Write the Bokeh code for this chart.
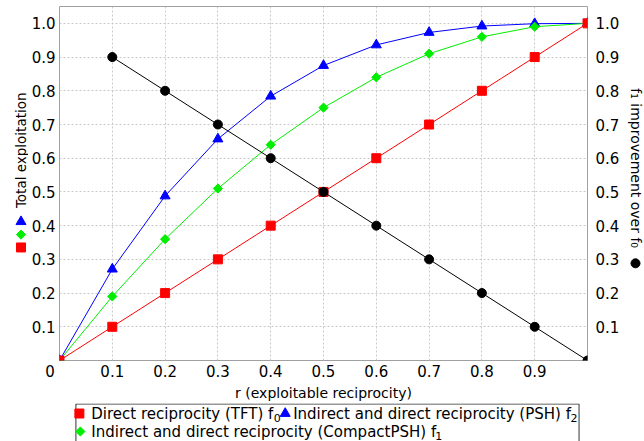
import math
from bokeh.plotting import figure
from bokeh.models import Range1d, LinearAxis, FixedTicker, NumeralTickFormatter
from bokeh.layouts import gridplot
from bokeh.embed import file_html
from bokeh.resources import INLINE
from bokeh.core.properties import value

# ---- data ----
r = [0.0, 0.1, 0.2, 0.3, 0.4, 0.5, 0.6, 0.7, 0.8, 0.9, 1.0]
f0_tft = [0.0, 0.1, 0.2, 0.3, 0.4, 0.5, 0.6, 0.7, 0.8, 0.9, 1.0]
f2_psh = [0.0, 0.271, 0.488, 0.657, 0.784, 0.875, 0.936, 0.973, 0.992, 0.999, 1.0]
f1_compact = [0.0, 0.19, 0.36, 0.51, 0.64, 0.75, 0.84, 0.91, 0.96, 0.99, 1.0]
r_impr = [0.1, 0.2, 0.3, 0.4, 0.5, 0.6, 0.7, 0.8, 0.9, 1.0]
improvement = [0.9, 0.8, 0.7, 0.6, 0.5, 0.4, 0.3, 0.2, 0.1, 0.0]

x_ticks = [0.0, 0.1, 0.2, 0.3, 0.4, 0.5, 0.6, 0.7, 0.8, 0.9]
x_grid = [0.1, 0.2, 0.3, 0.4, 0.5, 0.6, 0.7, 0.8, 0.9]
y_ticks = [0.1, 0.2, 0.3, 0.4, 0.5, 0.6, 0.7, 0.8, 0.9, 1.0]

x_label = "r (exploitable reciprocity)"
y_label = "Total exploitation"
y2_label = "f\u2081 improvement over f\u2080"
legend_main = ["Direct reciprocity (TFT) f",
               "Indirect and direct reciprocity (PSH) f",
               "Indirect and direct reciprocity (CompactPSH) f"]
legend_sub = ["0", "2", "1"]

FONT = "DejaVu Sans"
FS = "15px"
LFS = "14px"
RED, GREEN, BLUE, BLACK = "#ff0000", "#00ee00", "#0000ff", "#000000"

# page-pixel layout
LW, PW, RW = 28, 594, 22
PH, LGH = 403, 38
Y_TOP = 357 / 340  # frame top value (frame is 357 px high, 340 px per unit)

def py(page_y):
    """page pixel row -> value on the shared y scale"""
    return (363 - page_y) / 340

# ---- main figure ----
p = figure(width=PW, height=PH, output_backend="svg", toolbar_location=None,
           x_range=Range1d(0, 1), y_range=Range1d(0, Y_TOP),
           min_border_left=31, min_border_right=32, min_border_top=6,
           min_border_bottom=40)
p.extra_y_ranges = {"y2": Range1d(0, Y_TOP)}
p.outline_line_color = "#a0a0a0"
p.outline_line_width = 1
p.background_fill_color = "white"
p.border_fill_color = "white"

def style_axis(ax):
    ax.axis_line_color = None
    ax.major_tick_line_color = None
    ax.minor_tick_line_color = None
    ax.major_tick_in = 0
    ax.major_tick_out = 0
    ax.minor_tick_in = 0
    ax.minor_tick_out = 0
    ax.major_label_text_font = FONT
    ax.major_label_text_font_size = FS
    ax.major_label_text_color = "black"
    ax.axis_label_text_font = FONT
    ax.axis_label_text_font_size = LFS
    ax.axis_label_text_font_style = "normal"
    ax.axis_label_text_color = "black"

fmt = NumeralTickFormatter(format="0.0")
p.xaxis.ticker = FixedTicker(ticks=x_ticks)
p.xaxis.formatter = fmt
p.xaxis.major_label_overrides = {0.0: "0" + "\u00a0" * 4}
p.yaxis.ticker = FixedTicker(ticks=y_ticks)
p.yaxis.formatter = fmt
style_axis(p.xaxis[0])
style_axis(p.yaxis[0])
p.xaxis.major_label_standoff = 2
p.xaxis.axis_label = x_label
p.xaxis.axis_label_standoff = 1
p.yaxis.major_label_standoff = 4

y2 = LinearAxis(y_range_name="y2", ticker=FixedTicker(ticks=y_ticks), formatter=fmt)
style_axis(y2)
y2.major_label_standoff = 8
p.add_layout(y2, "right")

p.xgrid.ticker = FixedTicker(ticks=x_grid)
p.ygrid.ticker = FixedTicker(ticks=y_ticks)
for g in (p.xgrid[0], p.ygrid[0]):
    g.grid_line_color = "#c8c8c8"
    g.grid_line_dash = "2 2"
    g.grid_line_width = 1

p.line(r, f2_psh, line_color=BLUE, line_width=1)
p.scatter(r, f2_psh, marker="triangle", size=10, color=BLUE)
p.line(r, f1_compact, line_color=GREEN, line_width=1)
p.scatter(r, f1_compact, marker="square", angle=math.pi / 4, size=6.5, color=GREEN)
p.line(r, f0_tft, line_color=RED, line_width=1)
p.scatter(r, f0_tft, marker="square", size=9, color=RED)
p.line(r_impr, improvement, line_color=BLACK, line_width=1, y_range_name="y2")
p.scatter(r_impr, improvement, marker="circle", size=9, color=BLACK, y_range_name="y2")

def side_fig(width, x0, x1):
    f = figure(width=width, height=PH, output_backend="svg", toolbar_location=None,
               x_range=Range1d(x0, x1), y_range=p.y_range,
               min_border_left=0, min_border_right=0, min_border_top=6,
               min_border_bottom=40)
    f.axis.visible = False
    f.grid.visible = False
    f.outline_line_color = None
    f.background_fill_color = "white"
    f.border_fill_color = "white"
    return f

# ---- left title panel ----
lf = side_fig(LW, 0, LW)
lf.text(x=[20.5], y=[py(151)], text=[y_label], angle=math.pi / 2,
        text_font=value(FONT), text_font_size="13.5px", text_color="black",
        text_align="center", text_baseline="middle")
lf.scatter([20.5], [py(223)], marker="triangle", size=10, color=BLUE)
lf.scatter([20.5], [py(236)], marker="square", angle=math.pi / 4, size=6.5, color=GREEN)
lf.scatter([20.5], [py(249)], marker="square", size=9, color=RED)

# ---- right title panel ----
rf = side_fig(RW, LW + PW, LW + PW + RW)
rf.text(x=[635], y=[py(169)], text=[y2_label], angle=-math.pi / 2,
        text_font=value(FONT), text_font_size=LFS, text_color="black",
        text_align="center", text_baseline="middle")
rf.scatter([635], [py(265)], marker="circle", size=9, color=BLACK)

# ---- legend panel (page coordinates) ----
leg = figure(width=PW, height=LGH, output_backend="svg", toolbar_location=None,
             x_range=Range1d(59, 590), y_range=Range1d(441, 403),
             min_border_left=31, min_border_right=32, min_border_top=0,
             min_border_bottom=0)
leg.axis.visible = False
leg.grid.visible = False
leg.outline_line_color = None
leg.background_fill_color = "white"
leg.border_fill_color = "white"
leg.quad(left=[75.5], right=[581.5], top=[403.5], bottom=[460],
         fill_color=None, line_color="#333333", line_width=1)
leg.scatter([79], [413], marker="square", size=9, color=RED)
leg.scatter([286], [413], marker="triangle", size=10, color=BLUE)
leg.scatter([80], [431], marker="square", angle=math.pi / 4, size=6.5, color=GREEN)
leg.text(x=[91, 294, 91], y=[413, 413, 431], text=legend_main,
         text_font=value(FONT), text_font_size=FS, text_color="black",
         text_align="left", text_baseline="middle")
leg.text(x=[274.5, 573, 437], y=[417, 417, 435], text=legend_sub,
         text_font=value(FONT), text_font_size="11px", text_color="black",
         text_align="left", text_baseline="middle")

grid = gridplot([[lf, p, rf], [None, leg, None]], toolbar_location=None)
open("out.html", "w").write(file_html(grid, INLINE))
